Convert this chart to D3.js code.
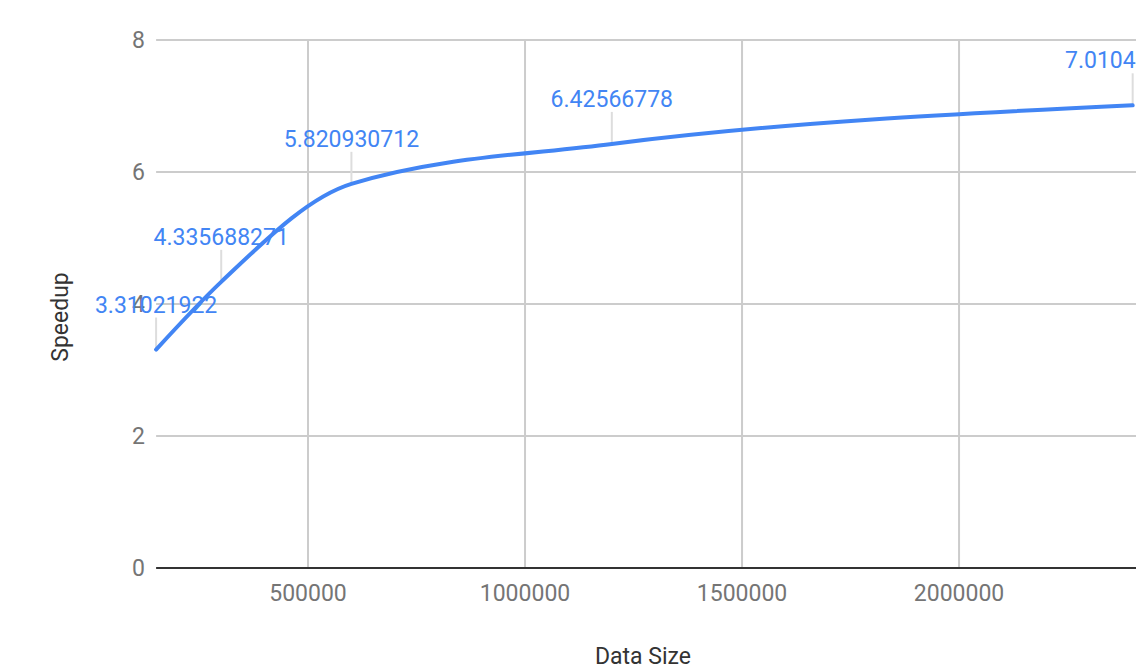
<!DOCTYPE html>
<html>
<head>
<meta charset="utf-8">
<script src="https://cdn.jsdelivr.net/npm/d3@7"></script>
<style>
  html, body { margin: 0; padding: 0; background: #fff; overflow: hidden; }
  svg { display: block; font-family: Roboto, "Noto Sans", sans-serif; }
</style>
</head>
<body>
<svg id="chart" width="1136" height="664"></svg>
<script>
// Speedup measured for each data size
const dataSizes = [150000, 300000, 600000, 1200000, 2400000];
const speedups = [3.31021922, 4.335688271, 5.820930712, 6.42566778, 7.010471523];
const speedupLabels = ["3.31021922", "4.335688271", "5.820930712", "6.42566778", "7.010471523"];
const xTicks = [500000, 1000000, 1500000, 2000000];
const yTicks = [0, 2, 4, 6, 8];

const points = dataSizes.map((d, i) => ({ size: d, speedup: speedups[i], label: speedupLabels[i] }));

const svg = d3.select("#chart");
const fontSize = 23;

const x = d3.scaleLinear().domain([150000, 2410000]).range([156.1, 1137]);
const y = d3.scaleLinear().domain([0, 8]).range([568, 40]);

const plotLeft = x.range()[0];
const plotRight = x.range()[1];

// Horizontal gridlines
svg.append("g")
  .selectAll("line")
  .data(yTicks.filter(t => t !== 0))
  .join("line")
  .attr("x1", plotLeft).attr("x2", plotRight)
  .attr("y1", d => y(d)).attr("y2", d => y(d))
  .attr("stroke", "#cccccc").attr("stroke-width", 2);

// Vertical gridlines
svg.append("g")
  .selectAll("line")
  .data(xTicks)
  .join("line")
  .attr("x1", d => x(d)).attr("x2", d => x(d))
  .attr("y1", y(8)).attr("y2", y(0))
  .attr("stroke", "#cccccc").attr("stroke-width", 2);

// Baseline
svg.append("line")
  .attr("x1", plotLeft).attr("x2", plotRight)
  .attr("y1", y(0)).attr("y2", y(0))
  .attr("stroke", "#333333").attr("stroke-width", 2);

// Y tick labels
svg.append("g")
  .selectAll("text")
  .data(yTicks)
  .join("text")
  .attr("x", 145)
  .attr("y", d => y(d) + 8)
  .attr("text-anchor", "end")
  .attr("font-size", fontSize)
  .attr("fill", "#757575")
  .text(d => d);

// X tick labels
svg.append("g")
  .selectAll("text")
  .data(xTicks)
  .join("text")
  .attr("x", d => x(d))
  .attr("y", 601)
  .attr("text-anchor", "middle")
  .attr("font-size", fontSize)
  .attr("fill", "#757575")
  .text(d => d);

// Axis titles
svg.append("text")
  .attr("transform", `translate(68, ${(y(0) + y(8)) / 2 + 13}) rotate(-90)`)
  .attr("text-anchor", "middle")
  .attr("font-size", fontSize)
  .attr("fill", "#333333")
  .text("Speedup");

svg.append("text")
  .attr("x", 643)
  .attr("y", 664)
  .attr("text-anchor", "middle")
  .attr("font-size", fontSize)
  .attr("fill", "#333333")
  .text("Data Size");

// Annotation leader lines
svg.append("g")
  .selectAll("line")
  .data(points)
  .join("line")
  .attr("x1", d => x(d.size)).attr("x2", d => x(d.size))
  .attr("y1", d => y(d.speedup) - 32).attr("y2", d => y(d.speedup))
  .attr("stroke", "#dddddd").attr("stroke-width", 2);

// Speedup curve
const line = d3.line()
  .x(d => x(d.size))
  .y(d => y(d.speedup))
  .curve(d3.curveMonotoneX);

svg.append("path")
  .datum(points)
  .attr("d", line)
  .attr("fill", "none")
  .attr("stroke", "#4285f4")
  .attr("stroke-width", 4)
  .attr("stroke-linecap", "round")
  .attr("stroke-linejoin", "round");

// Value annotations
svg.append("g")
  .selectAll("text")
  .data(points)
  .join("text")
  .attr("x", d => x(d.size))
  .attr("y", d => y(d.speedup) - 37)
  .attr("text-anchor", "middle")
  .attr("font-size", fontSize)
  .attr("fill", "#4285f4")
  .text(d => d.label);
</script>
</body>
</html>
